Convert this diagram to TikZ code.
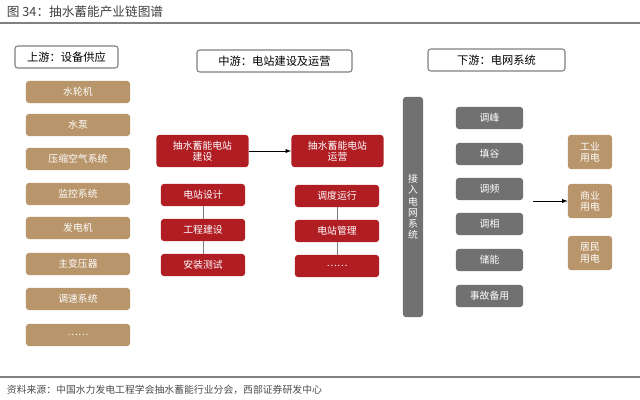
\documentclass[tikz,border=0pt]{standalone}
\usepackage{fontspec}
\setmainfont{Noto Sans CJK SC}
\usetikzlibrary{positioning}
\definecolor{tan}{HTML}{B8956A}
\definecolor{darkred}{HTML}{B01E24}
\definecolor{slate}{HTML}{717171}
\tikzset{
  headbox/.style={draw=gray, thick, fill=white, rounded corners=2pt, font=\footnotesize},
  tanbox/.style={fill=tan, rounded corners=2pt, text=white, font=\scriptsize, minimum width=2.6cm, minimum height=0.55cm},
  redbox/.style={fill=darkred, rounded corners=2pt, text=white, font=\scriptsize, minimum width=2.1cm, minimum height=0.55cm},
  graybox/.style={fill=slate, rounded corners=2pt, text=white, font=\scriptsize, minimum width=1.675cm, minimum height=0.55cm}
}
\begin{document}
\begin{tikzpicture}[x=0.025cm, y=-0.025cm]
        \useasboundingbox (0,0) rectangle (640,400);

        %Title
        \node [anchor=west, font=\small, text=black!75] (title) at (2,12) {图 34：抽水蓄能产业链图谱};
        \draw [gray, thick] (0,23) -- (640,23);

        %Headers
        \node [headbox, minimum width=2.575cm, minimum height=0.55cm] (up) at (66.5,57) {上游：设备供应};
        \node [headbox, minimum width=3.875cm, minimum height=0.55cm] (mid) at (274.5,61) {中游：电站建设及运营};
        \node [headbox, minimum width=3.425cm, minimum height=0.55cm] (down) at (496.5,60) {下游：电网系统};

        %Upstream
        \foreach \y/\t in {92/水轮机, 125/水泵, 159/压缩空气系统, 194/监控系统,
                           228/发电机, 264/主变压器, 299/调速系统, 335/……}
          \node [tanbox] at (78,\y) {\t};

        %Midstream
        \node [redbox, minimum width=2.3cm, minimum height=0.8cm, align=center] (build) at (202.5,151) {抽水蓄能电站\\建设};
        \node [redbox, minimum width=2.3cm, minimum height=0.8cm, align=center] (run) at (337.5,151) {抽水蓄能电站\\运营};
        \draw [-latex] (build) -- (run);
        \node [redbox] (b1) at (203,195) {电站设计};
        \node [redbox] (b2) at (203,230) {工程建设};
        \node [redbox] (b3) at (203,265) {安装测试};
        \node [redbox] (r1) at (337,196) {调度运行};
        \node [redbox] (r2) at (337,231) {电站管理};
        \node [redbox] (r3) at (337,266) {……};
        \draw [gray] (b1) -- (b2) (b2) -- (b3) (r1) -- (r2) (r2) -- (r3);

        %Downstream
        \node [fill=slate, rounded corners=2pt, minimum width=0.5cm, minimum height=5.5cm, text=white, font=\scriptsize, align=center] (grid) at (413,207) {接\\入\\电\\网\\系\\统};
        \foreach \y/\t in {118/调峰, 154/填谷, 189/调频, 224/调相, 260/储能, 296/事故备用}
          \node [graybox] at (489.5,\y) {\t};
        \coordinate (from) at (533,201);
        \node [tanbox, minimum width=1.1cm, minimum height=0.85cm, align=center] (ind) at (590,152) {工业\\用电};
        \node [tanbox, minimum width=1.1cm, minimum height=0.85cm, align=center] (com) at (590,201) {商业\\用电};
        \node [tanbox, minimum width=1.1cm, minimum height=0.85cm, align=center] (res) at (590,253) {居民\\用电};
        \draw [-latex] (from) -- (com);

        %Source
        \draw [gray, very thick] (0,377) -- (640,377);
        \node [anchor=west, font=\scriptsize, text=black!70] (src) at (2,390) {资料来源：中国水力发电工程学会抽水蓄能行业分会，西部证券研发中心};
\end{tikzpicture}
\end{document}
